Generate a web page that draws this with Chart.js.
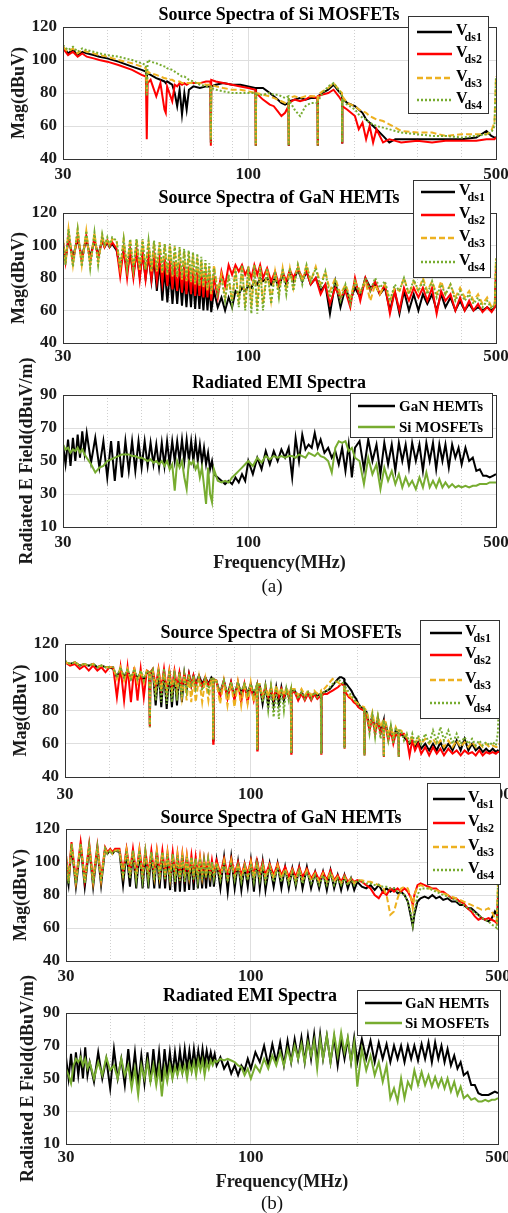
<!DOCTYPE html>
<html>
<head>
<meta charset="utf-8">
<script src="https://cdn.jsdelivr.net/npm/chart.js@4.4.1/dist/chart.umd.min.js"></script>
<style>
  body { margin: 0; background: #fff; width: 508px; height: 1213px; position: relative; overflow: hidden; }
  canvas { position: absolute; left: 0; }
  .cap { position: absolute; left: 0; width: 544px; text-align: center; line-height: 20px;
         font: 19px "Liberation Serif", "Times New Roman", serif; color: #111; }
</style>
</head>
<body>
<canvas id="siA" width="508" height="192" style="top:0px"></canvas>
<canvas id="ganA" width="508" height="200" style="top:170px"></canvas>
<canvas id="radA" width="508" height="250" style="top:330px"></canvas>
<div class="cap" style="top:575px">(a)</div>
<canvas id="siB" width="508" height="210" style="top:600px"></canvas>
<canvas id="ganB" width="508" height="210" style="top:780px"></canvas>
<canvas id="radB" width="508" height="263" style="top:950px"></canvas>
<div class="cap" style="top:1192px">(b)</div>

<script>
// axis ticks
const xMajorTicks = [30, 100, 500];
const xMinorTicks = [40, 50, 60, 70, 80, 90, 200, 300, 400];
const magTicks = [40, 60, 80, 100, 120];
const fieldTicks = [10, 30, 50, 70, 90];

// (a) Source spectra of Si MOSFETs
const siA_freq = [30,31,32,33,34,35,36.6,38,40,43,47,50,51.4,51.7,52,53,55,56.5,58,58.5,59,61,62,63,64,65,66,67,68,70,73,76,78.2,78.4,78.6,81,85,90,95,100,104.8,105,105.2,110,115,118,121,124,127,129.8,130,130.2,135,140,145,150,156.8,157,157.2,162,168,174,180,183.8,184,184.2,190,200,205,210,215,220,225,230,240,250,260,270,300,330,360,400,440,470,485,495,500];
const siA_vds1 = [108,104,106,103,105,104,103,102,101,99,96,94,93,90,92,91,89,88,87,86,87,85,80,72,82,67,80,70,82,84,83,84,84,50,84,85,86,85,85,84,83,48,83,83,80,78,76,74,73,74,48,75,76,77,76,77,77,48,78,80,82,85,81,79,50,77,74,72,70,68,64,62,60,58,54,50,52,52,52,52,52,52,53,57,54,53,53];
const siA_vds2 = [107,103,105,102,104,102,101,100,99,97,94,91,90,52,86,88,78,86,70,68,84,75,85,84,86,85,86,85,86,86,86,87,87,48,88,87,86,85,84,83,82,48,80,76,73,72,69,66,68,72,48,74,76,75,76,78,77,48,78,79,80,82,78,75,50,72,70,66,58,62,52,60,50,58,50,52,51,50,51,50,51,51,51,52,52,52,53];
const siA_vds3 = [108,105,107,104,106,105,104,103,102,100,98,96,95,80,93,92,91,90,89,89,88,88,87,87,87,86,86,86,86,86,86,85,85,52,85,84,83,82,82,81,80,49,80,79,78,77,76,75,74,74,49,77,78,77,78,78,78,49,79,81,83,86,82,80,50,78,74,72,70,69,68,66,65,64,63,61,59,57,56,56,54,55,55,55,57,62,90];
const siA_vds4 = [109,106,108,105,107,106,105,104,103,102,100,98,97,78,100,99,98,97,96,96,95,94,93,92,91,90,90,89,88,87,85,84,84,50,83,82,81,80,80,80,80,48,79,79,80,79,79,78,77,78,48,76,70,66,72,74,74,48,75,80,84,86,82,78,50,76,73,70,67,65,64,62,61,60,59,58,57,56,55,54,54,53,54,55,56,60,90];

// (a) Source spectra of GaN HEMTs
const ganA_freq = [30,30.5,31.1,32.0,33.0,33.9,34.9,35.8,36.8,37.7,38.7,39.3,40.0,40.6,41.3,
  42.5,43.5,44.5,45.5,46.4,47.4,48.4,49.4,50.3,51.3,52.3,53.3,54.2,55.2,56.2,57.2,58.1,59.1,60.1,61.1,62.0,63.0,64.0,65.0,65.9,66.9,67.9,68.9,69.8,70.8,71.8,72.8,73.7,74.7,75.7,76.7,77.6,78.6,
  80,82,84,86,88,90,92,94,96,98,100,102,104,106,108,110,113,116,119,122,125,128,131,134,138,142,146,150,155,160,165,170,
  176,182,188,194,200,207,214,221,228,235,243,251,259,267,275,284,293,302,311,320,330,340,350,360,372,384,396,408,420,432,445,458,472,486,496,500];
const ganA_vds1 = [100,92,104,93,104,93,104,93,103,94,103,99,102,99,101,
  97,86,97,84,96,82,96,81,95,80,94,78,92,72,90,66,86,65,84,64,82,64,82,63,81,62,80,62,80,61,79,61,78,60,77,60,76,59,
  72,62,68,60,68,62,72,70,74,72,75,74,78,76,80,78,80,76,80,74,82,76,84,78,85,78,84,76,80,72,76,58,
  78,62,74,66,74,68,80,74,76,70,74,60,72,58,72,60,70,60,70,64,70,60,70,62,68,60,66,60,64,60,62,60,62,60,62,80];
const ganA_vds2 = [102,90,106,90,106,90,106,90,105,92,104,99,103,99,102,
  98,81,98,80,97,80,97,79,96,79,95,79,94,78,93,77,92,75,91,73,90,72,89,71,88,70,87,70,86,69,85,69,85,68,84,68,83,66,
  80,68,84,75,88,82,88,84,88,82,86,80,88,82,88,80,86,78,84,76,84,78,85,80,86,80,84,76,80,70,76,64,
  74,68,72,62,80,66,80,72,78,70,76,58,72,60,74,66,74,68,74,66,74,58,72,66,70,60,68,60,66,60,64,59,62,59,62,86];
const ganA_vds3 = [104,89,110,88,110,88,109,88,108,90,106,100,104,100,104,
  103,86,104,86,104,85,104,85,103,85,103,84,102,84,102,83,101,82,100,81,99,80,98,79,97,78,96,77,95,76,93,75,91,74,89,72,87,70,
  88,72,82,68,80,66,86,64,88,62,87,62,88,62,87,64,86,66,84,70,86,72,86,74,88,78,88,78,87,76,84,72,
  80,70,76,68,78,72,78,66,76,70,76,66,74,72,80,70,78,72,80,72,78,70,78,70,76,68,74,68,72,66,70,64,68,62,64,92];
const ganA_vds4 = [104,88,110,87,110,87,109,86,108,88,107,100,105,100,105,
  103,86,104,86,104,86,104,86,104,85,103,85,103,85,102,84,101,83,101,82,100,81,99,80,98,79,97,78,96,77,95,76,93,75,91,74,89,72,
  86,70,80,66,82,64,86,62,88,60,87,58,88,58,87,60,86,64,84,68,86,70,86,72,88,76,88,78,86,74,84,68,
  78,66,76,64,78,70,80,72,80,74,78,66,76,72,80,70,79,72,78,70,78,68,76,70,76,66,72,66,70,64,68,62,66,61,64,92];

// radiated EMI, both figures share the frequency grid
const radFreq = [30,30.5,31,31.5,32,32.5,33,33.5,34,34.5,35,
  36,37,38,39,40,41,42,43,44,45,46,47,48,49,50,51,52,53,54,55,56,57,58,59,60,
  61,62,63,64,65,66,67,68,69,70,71,72,73,74,75,76,77,78,79,80,
  82,84,86,88,90,92,94,96,98,100,
  103,106,109,112,115,118,121,124,127,130,133,136,139,142,145,148,151,154,157,160,164,168,172,176,180,184,188,192,196,200,
  206,212,218,224,230,236,242,248,254,260,266,272,278,284,290,297,304,311,318,325,332,339,346,353,360,368,376,384,392,400,410,420,430,440,450,460,470,480,490,500];
const radA_gan = [60,48,63,47,64,50,66,52,68,55,67,
  49,64,46,62,40,62,38,62,40,62,44,62,44,62,46,62,47,61,48,60,46,61,47,62,48,
  62,50,62,50,63,50,63,50,62,50,62,50,60,49,58,48,55,45,50,42,
  40,38,36,38,36,40,37,42,38,50,
  42,52,45,56,48,56,50,57,52,58,40,64,50,66,57,60,58,67,58,63,55,58,52,56,48,58,44,60,40,58,
  62,45,63,50,60,42,61,48,60,44,61,50,60,46,61,50,60,44,61,50,61,45,60,50,60,46,60,52,58,48,58,50,52,44,45,41,41,40,41,42];
const radA_si = [60,57,58,55,57,56,58,55,57,54,52,
  48,43,46,47,50,51,52,53,54,54,54,53,53,52,52,51,50,51,49,50,48,50,47,50,45,
  48,32,50,46,50,40,33,50,48,50,45,48,40,46,35,24,46,30,25,45,
  38,37,38,37,40,42,44,46,48,50,
  47,52,49,53,51,53,52,53,52,53,53,52,54,53,52,55,54,53,55,53,52,50,43,58,62,61,62,56,58,52,
  50,36,52,42,48,33,46,38,44,36,42,34,40,35,38,33,40,34,43,34,38,34,39,34,37,34,36,34,35,34,35,34,35,35,36,36,36,37,37,37];

// (b) Source spectra of Si MOSFETs
const siB_freq = [30,31,32,33,34,35,36,37,38,39,40,
  41,42,43,44,45,46,47,48,49,50,51,
  51.8,52,52.2,
  53,54,55,56,57,58,59,60,61,62,63,64,65,66,67,68,69,70,71.5,73,74.5,76,77.5,
  78.2,78.4,78.6,
  80,82,84,86,88,90,92,94,96,98,100,102,104,
  104.3,104.6,
  106,108,110,112,114,116,118,120,122,124,126,128,129.7,
  130,130.3,
  133,136,139,142,145,148,151,154,157.6,
  157.9,158.2,
  161,164,167,170,173,176,178,180,183.3,
  183.6,183.9,
  186,189,192,195,198,201,204,208.7,
  209,209.3,
  212,216,220,224,228,232,236.7,
  237,237.3,
  240,244,248,252,256,260.7,
  261,261.3,
  265,270,275,280,285,290,296,302,310,318,326,334,342,350,360,370,380,390,400,410,420,430,440,450,460,470,480,490,496,500];
const siB_vds1 = [109,108,109,107,108,107,108,106,107,106,106,
  105,100,105,100,104,99,104,99,103,98,103,
  102,71,102,
  104,83,104,82,104,81,104,82,103,83,103,85,102,92,102,95,101,96,101,96,100,96,100,
  99,62,98,
  98,90,98,89,97,88,97,90,96,90,96,89,95,
  57,95,
  95,84,95,83,94,83,94,84,94,86,93,88,92,
  55,92,
  92,88,91,88,91,87,90,89,90,
  55,90,
  91,92,93,95,97,99,100,100,99,
  58,97,
  96,94,92,89,87,84,82,81,
  54,80,
  79,70,77,68,76,67,74,
  53,73,
  72,64,70,63,68,66,
  53,66,
  66,64,62,60,62,58,61,57,60,56,60,56,61,56,60,56,62,56,63,56,60,56,58,55,57,55,57,55,56,55];
const siB_vds2 = [109,107,108,105,107,104,107,104,106,103,106,
  106,88,106,86,106,85,106,86,105,88,104,
  103,70,103,
  105,94,105,93,105,92,104,93,104,94,103,94,102,95,102,95,101,95,100,94,100,95,99,
  99,60,99,
  98,88,98,87,97,86,97,85,96,85,95,86,94,
  56,94,
  94,88,94,88,93,87,93,88,93,88,92,88,92,
  54,91,
  91,86,90,86,90,86,90,87,89,
  54,89,
  90,90,91,92,93,94,95,96,95,
  57,93,
  90,88,87,85,84,82,81,80,
  53,79,
  77,68,76,66,74,66,72,
  52,71,
  70,62,68,60,66,64,
  52,64,
  66,66,63,53,62,56,60,54,58,53,58,54,57,53,57,54,56,53,56,54,55,53,56,53,55,54,55,54,55,55];
const siB_vds3 = [109,108,109,107,108,107,108,106,107,106,106,
  106,99,106,98,105,98,105,97,104,97,104,
  103,71,102,
  104,92,104,92,103,91,103,92,102,90,102,88,101,86,101,85,100,85,100,85,99,86,99,
  98,63,98,
  98,84,98,83,97,82,97,83,97,84,97,85,96,
  57,96,
  96,88,95,88,95,88,95,89,94,89,94,90,93,
  55,93,
  93,89,93,89,92,89,92,90,92,
  55,92,
  93,95,97,99,98,97,96,95,94,
  58,93,
  91,89,88,86,85,84,83,82,
  54,81,
  80,72,79,70,77,70,75,
  53,74,
  73,65,71,64,70,66,
  53,68,
  68,66,64,62,64,60,64,60,63,60,63,59,62,58,62,58,62,58,61,58,61,58,60,58,60,58,59,58,58,60];
const siB_vds4 = [110,108,109,107,108,107,108,106,107,106,106,
  106,100,106,100,105,99,105,99,104,98,104,
  103,70,103,
  105,86,105,85,105,84,104,85,104,86,103,88,102,92,102,94,101,93,101,92,100,92,100,
  99,62,99,
  98,91,98,90,97,90,97,91,96,90,96,90,95,
  56,95,
  95,85,94,80,94,76,94,75,93,80,93,86,92,
  54,92,
  92,87,91,87,91,87,91,88,90,
  54,90,
  91,92,94,96,97,98,98,97,96,
  57,95,
  93,91,89,87,85,83,82,81,
  53,80,
  79,66,77,64,76,63,74,
  52,73,
  72,62,71,60,70,62,
  52,68,
  68,62,66,60,66,60,65,60,66,60,68,61,70,62,68,60,66,60,64,60,63,59,62,59,61,59,61,59,66,85];

// (b) Source spectra of GaN HEMTs
const ganB_freq = [30,30.5,31.1,32.0,33.0,33.9,34.9,35.8,36.8,37.7,38.7,39.3,40.0,40.6,41.3,
  42.5,43.5,44.5,45.5,46.4,47.4,48.4,49.4,50.3,51.3,52.3,53.3,54.2,55.2,56.2,57.2,58.1,59.1,60.1,61.1,62.0,63.0,64.0,65.0,65.9,66.9,67.9,68.9,69.8,70.8,71.8,72.8,73.7,74.7,75.7,76.7,77.6,78.6,
  80,82,84,86,88,90,92,94,96,98,100,102,104,106,108,110,
  113,116,119,122,125,128,131,134,137,140,
  144,148,152,156,160,164,168,172,176,180,184,188,192,196,200,
  206,212,218,224,230,236,242,248,254,260,266,272,278,284,287,290,296,302,310,318,326,334,342,350,360,370,380,390,400,410,420,430,440,450,460,470,480,490,496,500];
const ganB_vds1 = [95,86,110,85,110,85,109,85,108,86,108,105,107,105,107,
  106,86,106,85,106,84,106,84,105,84,105,84,105,84,105,84,104,83,104,82,103,82,103,82,102,83,102,83,101,84,101,84,100,84,100,85,99,85,
  101,84,103,82,103,84,100,83,98,85,101,82,102,84,100,83,
  99,85,99,84,97,84,96,85,97,84,
  97,84,94,84,94,83,95,84,92,83,92,84,90,83,88,
  85,84,86,83,86,82,84,82,84,81,82,80,76,66,61,68,76,78,79,78,80,78,79,77,78,76,76,74,74,72,72,70,68,66,65,64,66,70,68,67];
const ganB_vds2 = [104,89,112,89,112,89,111,89,110,90,109,106,108,106,108,
  108,94,108,94,108,93,108,93,107,93,107,93,107,93,107,93,106,92,106,92,105,92,105,92,104,92,104,92,103,92,103,92,102,93,102,93,101,93,
  101,93,102,92,102,93,100,92,99,93,101,92,101,93,100,92,
  99,92,99,92,97,91,96,91,97,91,
  96,90,94,89,94,89,95,89,92,88,92,88,90,88,89,
  88,86,84,80,78,82,80,84,82,84,82,84,82,78,74,80,86,87,86,85,84,84,82,82,80,78,78,76,75,72,70,67,65,66,65,66,65,64,63,80];
const ganB_vds3 = [104,88,111,88,111,88,110,88,109,89,108,105,107,105,107,
  107,92,107,92,107,91,107,91,106,91,106,91,106,91,106,91,105,90,105,90,104,90,104,90,103,91,103,91,102,91,102,91,101,91,101,92,100,92,
  100,91,101,90,101,91,99,90,98,91,100,90,100,91,99,90,
  98,90,98,90,96,89,95,89,96,89,
  95,89,93,88,93,88,94,88,91,87,91,87,90,87,89,
  89,88,88,87,86,85,80,68,70,78,84,85,84,78,72,80,85,86,85,84,84,83,82,81,80,79,78,77,76,75,74,73,72,71,71,72,70,66,64,88];
const ganB_vds4 = [104,87,111,87,111,87,110,87,109,88,108,105,107,105,107,
  107,90,107,90,107,89,107,89,106,89,106,89,106,89,106,89,105,88,105,88,104,88,104,88,103,89,103,89,102,89,102,89,101,90,101,90,100,90,
  99,89,100,88,100,89,98,88,97,89,99,88,99,89,98,88,
  97,88,97,88,95,87,94,87,95,87,
  94,87,92,86,92,86,93,86,90,86,91,86,90,86,89,
  88,87,87,86,86,85,85,84,84,82,81,80,76,68,62,70,80,84,84,84,83,82,81,80,79,78,77,75,74,72,71,69,68,66,65,64,62,61,60,88];

// (b) Radiated EMI
const radB_gan = [63,50,65,48,66,52,64,50,69,52,60,
  48,66,50,62,44,68,50,62,46,68,48,66,46,64,47,66,48,68,50,66,48,68,52,66,52,
  66,54,67,55,68,56,67,56,68,57,67,58,68,58,67,60,66,60,65,58,
  63,56,60,53,58,52,58,55,62,56,
  66,60,70,58,71,60,72,58,73,60,74,62,75,60,76,62,77,60,77,62,76,60,75,58,74,62,74,60,75,60,
  74,62,73,60,72,62,71,60,70,62,70,60,70,62,70,61,71,62,72,60,72,62,70,60,68,58,64,56,60,52,54,46,46,41,40,40,40,41,42,41];
const radB_si = [56,52,47,58,62,60,63,58,62,56,60,
  50,60,52,63,55,58,50,62,52,58,44,56,40,58,50,60,48,58,46,57,39,56,48,58,50,
  57,52,58,53,58,50,59,54,60,52,61,55,61,52,60,56,61,58,61,60,
  62,61,62,61,60,58,57,52,56,50,
  58,54,62,56,64,58,66,58,68,60,70,62,71,60,72,64,73,56,74,62,76,60,77,64,78,66,75,60,72,45,
  68,55,64,52,60,48,58,38,44,36,50,38,48,44,55,46,54,46,52,45,51,45,50,44,50,42,48,40,45,38,40,37,38,36,36,37,36,37,37,38];

const SERIF = '"Liberation Serif", "Times New Roman", serif';
const INK = "#1a1a1a";
const GRID = "#dedede";
const MINOR = "#cfcfcf";
const BLACK = "#000000";
const RED = "#ff0000";
const YELLOW = "#edb120";
const GREEN = "#77ac30";

// box around the axes, panel title and the framed legend
const panelDecor = {
  id: "panelDecor",
  afterDatasetsDraw(chart) {
    const { ctx, chartArea: a } = chart;
    ctx.save();
    ctx.strokeStyle = "#333";
    ctx.lineWidth = 1;
    ctx.strokeRect(Math.round(a.left) + 0.5, Math.round(a.top) + 0.5,
      Math.round(a.right - a.left), Math.round(a.bottom - a.top));
    ctx.restore();
  },
  afterDraw(chart, args, opts) {
    const ctx = chart.ctx;
    ctx.save();
    ctx.fillStyle = "#000";
    ctx.font = "bold 18px " + SERIF;
    ctx.textAlign = "center";
    ctx.textBaseline = "middle";
    ctx.fillText(opts.title, opts.titleX, opts.titleY);

    const L = opts.legend;
    ctx.fillStyle = "#fff";
    ctx.fillRect(L.x, L.y, L.w, L.h);
    ctx.strokeStyle = "#333";
    ctx.lineWidth = 1;
    ctx.strokeRect(L.x + 0.5, L.y + 0.5, L.w, L.h);
    chart.data.datasets.forEach((ds, i) => {
      const y = L.y + L.rows[i];
      ctx.strokeStyle = ds.borderColor;
      ctx.lineWidth = 2.5;
      ctx.setLineDash(ds.borderDash || []);
      ctx.beginPath();
      ctx.moveTo(L.x + L.x1, y);
      ctx.lineTo(L.x + L.x2, y);
      ctx.stroke();
      ctx.setLineDash([]);
      ctx.fillStyle = "#000";
      ctx.textAlign = "left";
      if (ds.sub) {
        ctx.textBaseline = "alphabetic";
        ctx.font = "bold 16px " + SERIF;
        ctx.fillText(ds.label, L.x + L.tx, y + 3);
        const w = ctx.measureText(ds.label).width;
        ctx.font = "bold 12px " + SERIF;
        ctx.fillText(ds.sub, L.x + L.tx + w - 3, y + 9);
      } else {
        ctx.textBaseline = "middle";
        ctx.font = "bold 15px " + SERIF;
        ctx.fillText(ds.label, L.x + L.tx, y + 1);
      }
    });
    ctx.restore();
  },
};
Chart.register(panelDecor);

function vds(v1, v2, v3, v4) {
  return [
    { label: "V", sub: "ds1", values: v1, color: BLACK, dash: [] },
    { label: "V", sub: "ds2", values: v2, color: RED, dash: [] },
    { label: "V", sub: "ds3", values: v3, color: YELLOW, dash: [6, 3] },
    { label: "V", sub: "ds4", values: v4, color: GREEN, dash: [2, 2] },
  ];
}

function radiated(gan, si) {
  return [
    { label: "GaN HEMTs", values: gan, color: BLACK, dash: [] },
    { label: "Si MOSFETs", values: si, color: GREEN, dash: [] },
  ];
}

function spectrumChart(id, freq, series, cfg) {
  const canvas = document.getElementById(id);
  const h = canvas.height;
  const area = cfg.area;
  const font = (size) => ({ family: SERIF, size: size, weight: "bold" });
  return new Chart(canvas, {
    type: "line",
    data: {
      datasets: series.map((s, i) => ({
        label: s.label,
        sub: s.sub,
        data: freq.map((f, k) => ({ x: f, y: s.values[k] })),
        borderColor: s.color,
        borderWidth: 2,
        borderDash: s.dash,
        pointRadius: 0,
        tension: 0,
        order: series.length - i, // last series drawn on top
      })),
    },
    options: {
      responsive: false,
      animation: false,
      events: [],
      layout: { padding: { left: 0, top: area.top, right: canvas.width - area.right, bottom: 0 } },
      plugins: {
        legend: { display: false },
        tooltip: { enabled: false },
        panelDecor: { title: cfg.title, titleX: cfg.titleX, titleY: cfg.titleY, legend: cfg.legend },
      },
      scales: {
        x: {
          type: "logarithmic",
          min: 30,
          max: 500,
          afterBuildTicks: (s) => { s.ticks = xMajorTicks.map((v) => ({ value: v })); },
          afterFit: (s) => { s.height = h - area.bottom; s.paddingLeft = 0; s.paddingRight = 0; },
          ticks: { autoSkip: false, maxRotation: 0, padding: cfg.xLabelPad, color: INK, font: font(17),
                   callback: (v) => String(v) },
          grid: { color: GRID, drawTicks: false },
          border: { display: false },
          title: { display: !!cfg.xTitle, text: cfg.xTitle || "", color: INK, font: font(18),
                   padding: { top: 0, bottom: cfg.xTitlePad || 0 } },
        },
        xMinor: {
          type: "logarithmic",
          position: "bottom",
          min: 30,
          max: 500,
          afterBuildTicks: (s) => { s.ticks = xMinorTicks.map((v) => ({ value: v })); },
          afterFit: (s) => { s.height = 0; s.paddingLeft = 0; s.paddingRight = 0; },
          ticks: { display: false },
          grid: { color: MINOR, drawTicks: false },
          border: { display: false, dash: [1, 2] },
        },
        y: {
          min: cfg.yTicks[0],
          max: cfg.yTicks[cfg.yTicks.length - 1],
          afterBuildTicks: (s) => { s.ticks = cfg.yTicks.map((v) => ({ value: v })); },
          afterFit: (s) => { s.width = area.left; s.paddingTop = 0; s.paddingBottom = 0; },
          ticks: { padding: 6, color: INK, font: font(17) },
          grid: { color: GRID, drawTicks: false },
          border: { display: false },
          title: { display: true, text: cfg.yTitle, color: INK, font: font(18),
                   padding: { top: cfg.yTitlePad, bottom: 0 } },
        },
      },
    },
  });
}

spectrumChart("siA", siA_freq, vds(siA_vds1, siA_vds2, siA_vds3, siA_vds4), {
  area: { left: 63, right: 496, top: 27, bottom: 159 },
  yTicks: magTicks, yTitle: "Mag(dBuV)", yTitlePad: 9, xLabelPad: 5,
  title: "Source Spectra of Si MOSFETs", titleX: 279, titleY: 15,
  legend: { x: 408, y: 16, w: 80, h: 97, rows: [16, 38, 62, 84], x1: 9, x2: 44, tx: 48 },
});

spectrumChart("ganA", ganA_freq, vds(ganA_vds1, ganA_vds2, ganA_vds3, ganA_vds4), {
  area: { left: 63, right: 496, top: 43, bottom: 173 },
  yTicks: magTicks, yTitle: "Mag(dBuV)", yTitlePad: 9, xLabelPad: 3,
  title: "Source Spectra of GaN HEMTs", titleX: 279, titleY: 28,
  legend: { x: 413, y: 10, w: 77, h: 97, rows: [12, 35, 58, 82], x1: 8, x2: 42, tx: 46 },
});

spectrumChart("radA", radFreq, radiated(radA_gan, radA_si), {
  area: { left: 63, right: 496, top: 65, bottom: 197 },
  yTicks: fieldTicks, yTitle: "Radiated E Field(dBuV/m)", yTitlePad: 17, xLabelPad: 5,
  xTitle: "Frequency(MHz)", xTitlePad: 6,
  title: "Radiated EMI Spectra", titleX: 279, titleY: 53.5,
  legend: { x: 350, y: 63, w: 142, h: 44, rows: [13, 34], x1: 8, x2: 45, tx: 49 },
});

spectrumChart("siB", siB_freq, vds(siB_vds1, siB_vds2, siB_vds3, siB_vds4), {
  area: { left: 65, right: 499, top: 44, bottom: 177 },
  yTicks: magTicks, yTitle: "Mag(dBuV)", yTitlePad: 11, xLabelPad: 7,
  title: "Source Spectra of Si MOSFETs", titleX: 281, titleY: 33,
  legend: { x: 420, y: 20, w: 79, h: 98, rows: [13, 35, 60, 83], x1: 10, x2: 42, tx: 45 },
});

spectrumChart("ganB", ganB_freq, vds(ganB_vds1, ganB_vds2, ganB_vds3, ganB_vds4), {
  area: { left: 66, right: 498, top: 49, bottom: 181 },
  yTicks: magTicks, yTitle: "Mag(dBuV)", yTitlePad: 11, xLabelPad: 5,
  title: "Source Spectra of GaN HEMTs", titleX: 281, titleY: 38,
  legend: { x: 427, y: 3, w: 73, h: 101, rows: [16, 40, 64, 87], x1: 6, x2: 38, tx: 41 },
});

spectrumChart("radB", radFreq, radiated(radB_gan, radB_si), {
  area: { left: 66, right: 498, top: 63, bottom: 194 },
  yTicks: fieldTicks, yTitle: "Radiated E Field(dBuV/m)", yTitlePad: 18, xLabelPad: 3,
  xTitle: "Frequency(MHz)", xTitlePad: 20,
  title: "Radiated EMI Spectra", titleX: 250, titleY: 46.5,
  legend: { x: 357, y: 40, w: 143, h: 45, rows: [13, 33], x1: 8, x2: 45, tx: 48 },
});
</script>
</body>
</html>
